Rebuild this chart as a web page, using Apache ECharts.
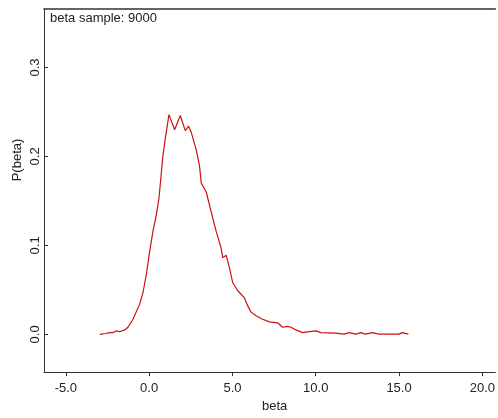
<!DOCTYPE html>
<html>
<head>
<meta charset="utf-8">
<script src="https://cdn.jsdelivr.net/npm/echarts@6/dist/echarts.min.js"></script>
<style>
  html, body { margin: 0; padding: 0; background: #fff; }
  #chart { width: 498px; height: 418px; }
</style>
</head>
<body>
<div id="chart"></div>
<script>
// density of beta
const betaX = [-2.96, -2.6, -2.37, -2.15, -1.96, -1.77, -1.47, -1.27, -0.97, -0.57, -0.37, -0.17,
  0.03, 0.23, 0.43, 0.59, 0.83, 0.97, 1.19, 1.53, 1.87, 2.17, 2.37, 2.53, 2.83, 3.02, 3.13,
  3.43, 3.72, 4.02, 4.32, 4.42, 4.62, 4.82, 5.02, 5.32, 5.72, 5.92, 6.12, 6.42, 6.81, 7.22,
  7.71, 8.01, 8.31, 8.52, 8.81, 9.21, 9.61, 10.01, 10.31, 11.2, 11.7, 12.0, 12.4, 12.7, 13.0,
  13.4, 13.8, 15.0, 15.2, 15.56]
const density = [0.000, 0.001, 0.002, 0.002, 0.004, 0.003, 0.005, 0.008, 0.017, 0.034, 0.047, 0.067,
  0.093, 0.116, 0.134, 0.153, 0.201, 0.220, 0.247, 0.230, 0.246, 0.229, 0.234, 0.227, 0.207, 0.190, 0.170,
  0.160, 0.138, 0.116, 0.097, 0.086, 0.089, 0.075, 0.058, 0.049, 0.041, 0.032, 0.025, 0.021, 0.017, 0.014,
  0.013, 0.008, 0.009, 0.008, 0.005, 0.002, 0.003, 0.004, 0.002, 0.0015, 0.0003, 0.002, 0.0003, 0.002, 0.0003,
  0.002, 0.0003, 0.0003, 0.002, 0.0003]
const xTicks = [-5, 0, 5, 10, 15, 20]
const yTicks = [0, 0.1, 0.2, 0.3]

const font = '"Liberation Sans", Arial, sans-serif'
const ink = '#222'
const axisColor = '#333'

const chart = echarts.init(document.getElementById('chart'), null, { renderer: 'canvas' })

chart.setOption({
  animation: false,
  backgroundColor: '#fff',
  title: {
    text: 'beta sample: 9000',
    left: 50, top: 12, padding: 0,
    textStyle: { fontFamily: font, fontSize: 13, fontWeight: 'normal', color: ink }
  },
  // plot box runs off the right edge of the picture, so no right border
  grid: { left: 44, top: 9, bottom: 43, right: 0 },
  xAxis: [{
    type: 'value',
    min: -6.31, max: 20.78,
    name: 'beta', nameLocation: 'middle', nameGap: 27,
    nameTextStyle: { fontFamily: font, fontSize: 13, color: ink, padding: [0, 0, 0, 10] },
    axisLine: { show: true, onZero: false, lineStyle: { color: axisColor } },
    axisTick: { show: true, length: 4, customValues: xTicks, lineStyle: { color: axisColor } },
    axisLabel: {
      customValues: xTicks, margin: 10,
      fontFamily: font, fontSize: 13, color: ink,
      formatter: v => v.toFixed(1)
    },
    splitLine: { show: false }
  }, {
    // top border of the box
    type: 'value', position: 'top',
    min: -6.31, max: 20.78,
    axisLine: { show: true, onZero: false, lineStyle: { color: axisColor, width: 1.5 } },
    axisTick: { show: false }, axisLabel: { show: false }, splitLine: { show: false }
  }],
  yAxis: {
    type: 'value',
    min: -0.0424, max: 0.3657,
    axisLine: { show: true, onZero: false, lineStyle: { color: axisColor } },
    axisTick: { show: true, inside: true, length: 4, customValues: yTicks, lineStyle: { color: axisColor } },
    axisLabel: {
      customValues: yTicks, rotate: 90, margin: 2,
      fontFamily: font, fontSize: 13, color: ink,
      formatter: v => v.toFixed(1)
    },
    splitLine: { show: false }
  },
  graphic: [{
    type: 'text',
    x: 11, y: 160,
    rotation: Math.PI / 2,
    style: {
      text: 'P(beta)', fontFamily: font, fontSize: 13, fill: ink,
      align: 'center', verticalAlign: 'top'
    }
  }],
  series: [{
    type: 'line',
    xAxisIndex: 0,
    data: betaX.map((x, i) => [x, density[i]]),
    showSymbol: false,
    lineStyle: { color: '#cc1010', width: 1.2 }
  }]
})
</script>
</body>
</html>
